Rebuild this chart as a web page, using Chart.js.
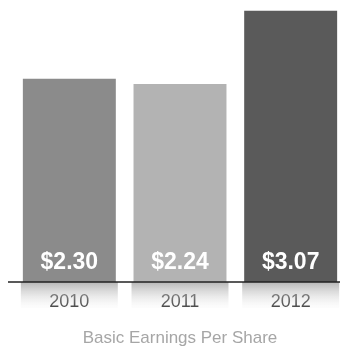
<!DOCTYPE html>
<html>
<head>
<meta charset="utf-8">
<style>
  html, body { margin: 0; padding: 0; background: #fff; overflow: hidden; width: 340px; height: 353px; }
  canvas { display: block; }
</style>
<script src="https://cdn.jsdelivr.net/npm/chart.js@4/dist/chart.umd.min.js"></script>
</head>
<body>
<canvas id="c" width="346" height="353"></canvas>
<script>
const categories = ['2010', '2011', '2012'];
const eps = [2.30, 2.24, 3.07];
const valueLabels = ['$2.30', '$2.24', '$3.07'];
const barColors = ['#8b8b8b', '#b3b3b3', '#5a5a5a'];
const chartTitle = 'Basic Earnings Per Share';

const decor = {
  id: 'decor',
  beforeDatasetsDraw(chart) {
    const ctx = chart.ctx;
    const y0 = chart.scales.y.getPixelForValue(0);
    const meta = chart.getDatasetMeta(0);
    ctx.save();
    meta.data.forEach((bar) => {
      const w = bar.width;
      const g = ctx.createLinearGradient(0, y0, 0, y0 + 26);
      g.addColorStop(0, 'rgba(170,170,170,0.85)');
      g.addColorStop(1, 'rgba(235,235,235,0.1)');
      ctx.fillStyle = g;
      ctx.fillRect(bar.x - w / 2 - 2, y0, w + 4, 26);
    });
    ctx.restore();
  },
  afterDatasetsDraw(chart) {
    const ctx = chart.ctx;
    const y0 = chart.scales.y.getPixelForValue(0);
    const meta = chart.getDatasetMeta(0);
    ctx.save();
    ctx.strokeStyle = '#222';
    ctx.lineWidth = 1.5;
    ctx.beginPath();
    ctx.moveTo(8, y0);
    ctx.lineTo(340, y0);
    ctx.stroke();
    ctx.fillStyle = '#fff';
    ctx.font = 'bold 23px "Liberation Sans", Arial, sans-serif';
    ctx.textAlign = 'center';
    ctx.textBaseline = 'middle';
    meta.data.forEach((bar, i) => {
      ctx.fillText(valueLabels[i], bar.x, y0 - 19);
    });
    ctx.restore();
  }
};

new Chart(document.getElementById('c'), {
  type: 'bar',
  data: {
    labels: categories,
    datasets: [{
      data: eps,
      backgroundColor: barColors,
      borderWidth: 0,
      barPercentage: 0.84,
      categoryPercentage: 1.0
    }]
  },
  options: {
    responsive: false,
    animation: false,
    events: [],
    layout: { padding: { left: 14, right: 0, top: 8, bottom: 0 } },
    plugins: { legend: { display: false }, tooltip: { enabled: false } },
    scales: {
      y: { display: false, min: 0, max: 3.1 },
      x: {
        grid: { display: false, drawTicks: false },
        border: { display: false },
        ticks: {
          padding: 9,
          color: '#333',
          font: { family: '"Liberation Sans", Arial, sans-serif', size: 18 }
        },
        title: {
          display: true,
          text: chartTitle,
          color: '#a6a6a6',
          font: { family: '"Liberation Sans", Arial, sans-serif', size: 17 },
          padding: { top: 7, bottom: 4 }
        }
      }
    }
  },
  plugins: [decor]
});
</script>
</body>
</html>
